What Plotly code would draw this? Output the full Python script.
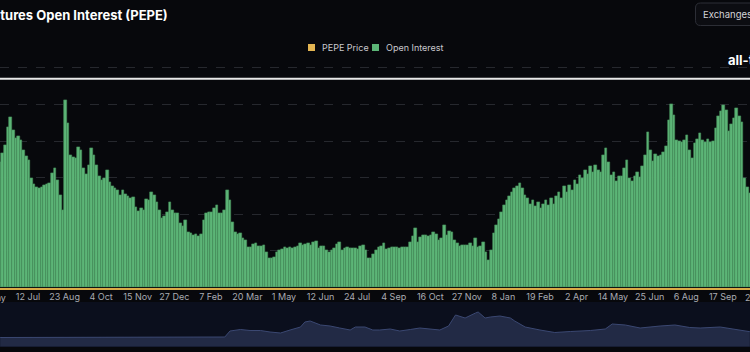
import pandas as pd
import plotly.graph_objects as go

W, H = 750, 352

# ---------------- data ----------------
oi_start = "2023-06-10"          # first sample shown, one bar every 3 days
oi_values = [  # Open Interest, $M
    343, 367, 389, 438, 466, 430, 408, 414, 403, 376,
    359, 348, 299, 283, 275, 272, 275, 280, 283, 285,
    313, 326, 294, 253, 212, 512, 449, 362, 357, 354,
    384, 376, 326, 310, 335, 381, 362, 335, 305, 294,
    299, 321, 288, 277, 272, 266, 253, 266, 255, 250,
    245, 247, 220, 209, 217, 212, 242, 239, 261, 253,
    234, 212, 190, 195, 206, 234, 212, 204, 204, 176,
    168, 184, 152, 149, 143, 146, 141, 146, 184, 204,
    206, 206, 217, 225, 204, 204, 212, 266, 239, 179,
    152, 146, 149, 135, 130, 111, 111, 119, 122, 113,
    113, 116, 97, 81, 81, 83, 97, 102, 105, 111,
    108, 111, 108, 111, 113, 122, 116, 119, 122, 116,
    124, 127, 108, 113, 113, 102, 97, 102, 108, 119,
    124, 102, 108, 111, 108, 108, 108, 105, 113, 116,
    102, 81, 81, 92, 102, 111, 113, 122, 105, 108,
    111, 111, 111, 108, 111, 111, 111, 124, 141, 163,
    124, 138, 143, 143, 141, 143, 152, 146, 130, 135,
    171, 143, 154, 152, 130, 122, 113, 116, 116, 116,
    122, 113, 135, 111, 113, 124, 97, 75, 102, 149,
    171, 187, 206, 225, 239, 250, 261, 272, 277, 285,
    272, 253, 245, 228, 239, 223, 234, 217, 228, 239,
    225, 245, 228, 250, 261, 245, 277, 261, 280, 266,
    294, 283, 307, 299, 321, 310, 332, 315, 335, 321,
    315, 362, 381, 343, 307, 315, 291, 305, 305, 326,
    348, 299, 291, 305, 315, 302, 332, 362, 425, 376,
    346, 365, 359, 362, 370, 386, 458, 501, 471, 403,
    400, 397, 403, 417, 376, 354, 395, 406, 422, 403,
    397, 406, 397, 400, 436, 469, 482, 499, 485, 427,
    447, 463, 490, 469, 452, 299, 275, 258,
]
oi_dates = pd.date_range(oi_start, periods=len(oi_values), freq="3D")

nav_dates = [
    "2023-06-10", "2023-07-14", "2023-08-18", "2023-09-21", "2023-10-26",
    "2023-11-29", "2024-01-03", "2024-02-06", "2024-02-23", "2024-02-29",
    "2024-03-12", "2024-03-23", "2024-04-04", "2024-04-15", "2024-04-27",
    "2024-05-08", "2024-05-20", "2024-05-25", "2024-05-31", "2024-06-12",
    "2024-06-23", "2024-07-04", "2024-07-16", "2024-07-22", "2024-08-02",
    "2024-08-11", "2024-08-19", "2024-08-31", "2024-09-11", "2024-09-23",
    "2024-10-04", "2024-10-27", "2024-11-06", "2024-11-14", "2024-11-25",
    "2024-12-07", "2024-12-10", "2024-12-18", "2024-12-24", "2025-01-04",
    "2025-01-16", "2025-01-21", "2025-02-02", "2025-02-19", "2025-03-08",
    "2025-03-26", "2025-04-18", "2025-05-05", "2025-05-13", "2025-05-28",
    "2025-06-14", "2025-07-07", "2025-07-24", "2025-08-10", "2025-08-22",
    "2025-09-14", "2025-10-07", "2025-10-18",
]
nav_values = [
    9.2, 9.2, 9.4, 9.0, 9.2, 9.4, 9.7, 9.4, 9.7, 15.7,
    17.2, 16.2, 16.2, 14.7, 13.7, 16.7, 19.7, 24.7, 25.7, 21.7,
    20.7, 18.7, 16.7, 19.7, 19.7, 16.7, 16.7, 17.7, 15.7, 17.2,
    18.7, 16.7, 20.7, 31.7, 28.7, 33.7, 34.7, 28.7, 29.7, 30.7,
    28.7, 25.7, 19.7, 16.7, 14.2, 15.2, 16.2, 17.7, 22.7, 21.7,
    18.7, 20.7, 21.7, 19.2, 18.7, 19.7, 16.7, 15.0,
]

tick_dates = [
    "2023-07-12", "2023-08-23", "2023-10-04", "2023-11-15", "2023-12-27",
    "2024-02-07", "2024-03-20", "2024-05-01", "2024-06-12", "2024-07-24",
    "2024-09-04", "2024-10-16", "2024-11-27", "2025-01-08", "2025-02-19",
    "2025-04-02", "2025-05-14", "2025-06-25", "2025-08-06", "2025-09-17",
]
tick_labels = [
    "12 Jul", "23 Aug", "4 Oct", "15 Nov", "27 Dec", "7 Feb", "20 Mar",
    "1 May", "12 Jun", "24 Jul", "4 Sep", "16 Oct", "27 Nov", "8 Jan",
    "19 Feb", "2 Apr", "14 May", "25 Jun", "6 Aug", "17 Sep",
]
edge_labels = ["31 May", "29 Oct"]

series_names = ["PEPE Price", "Open Interest"]

x_range = ["2023-06-09 20:00", "2025-10-18 05:00"]
ath_line_value = 570

# ---------------- helpers ----------------
def px_x(x):
    return x / W

def px_y(y):
    return 1 - y / H

BG = "#07080c"
GREEN = "#5cb577"
GREEN_EDGE = "#468f5d"
GOLD = "#e3b552"
FONT = "Inter"

fig = go.Figure()

fig.add_trace(go.Bar(
    x=oi_dates, y=oi_values, name=series_names[1],
    marker=dict(color=GREEN, line=dict(width=0.6, color=GREEN_EDGE)),
    showlegend=False, hoverinfo="skip", xaxis="x", yaxis="y",
))

fig.add_trace(go.Scatter(
    x=pd.to_datetime(nav_dates), y=nav_values, mode="lines",
    line=dict(color="#3b4872", width=1), fill="tozeroy", fillcolor="#222a45",
    showlegend=False, hoverinfo="skip", xaxis="x2", yaxis="y2",
))

shapes = [
    # navigator background
    dict(type="rect", xref="paper", yref="paper", x0=0, x1=1,
         y0=px_y(347), y1=px_y(302), fillcolor="#0b0f1d", line=dict(width=0), layer="below"),
    # all-time line
    dict(type="line", xref="paper", yref="y", x0=0, x1=1, y0=ath_line_value, y1=ath_line_value,
         line=dict(color="#e8e8e8", width=2)),
]

# legend swatches
legend_items = [(308, GOLD), (372, GREEN)]
for lx, col in legend_items:
    shapes.append(dict(type="rect", xref="paper", yref="paper",
                       x0=px_x(lx), x1=px_x(lx + 7), y0=px_y(51), y1=px_y(44),
                       fillcolor=col, line=dict(width=0)))

# Exchanges button (rounded rect)
bx0, by0, bx1, by1, r = 695.5, 3, 770, 25.5, 5
path = (f"M {px_x(bx0 + r)},{px_y(by0)} L {px_x(bx1 - r)},{px_y(by0)} "
        f"Q {px_x(bx1)},{px_y(by0)} {px_x(bx1)},{px_y(by0 + r)} "
        f"L {px_x(bx1)},{px_y(by1 - r)} Q {px_x(bx1)},{px_y(by1)} {px_x(bx1 - r)},{px_y(by1)} "
        f"L {px_x(bx0 + r)},{px_y(by1)} Q {px_x(bx0)},{px_y(by1)} {px_x(bx0)},{px_y(by1 - r)} "
        f"L {px_x(bx0)},{px_y(by0 + r)} Q {px_x(bx0)},{px_y(by0)} {px_x(bx0 + r)},{px_y(by0)} Z")
shapes.append(dict(type="path", xref="paper", yref="paper", path=path,
                   fillcolor="#0c0d12", line=dict(color="#2c2e36", width=1)))

annotations = [
    dict(text="<b>Futures Open Interest (PEPE)</b>", xref="paper", yref="paper",
         x=px_x(170), y=px_y(15), xanchor="right", yanchor="middle", showarrow=False,
         font=dict(family=FONT, size=13, color="#ffffff")),
    dict(text="Exchanges", xref="paper", yref="paper", x=px_x(701), y=px_y(14.5),
         xanchor="left", yanchor="middle", showarrow=False,
         font=dict(family=FONT, size=9.5, color="#d4d4d8")),
    dict(text="<b>all-time</b>", xref="paper", yref="paper", x=px_x(726), y=px_y(60),
         xanchor="left", yanchor="middle", showarrow=False,
         font=dict(family=FONT, size=13, color="#ffffff")),
    dict(text=edge_labels[0], xref="paper", yref="paper", x=px_x(-8.6), y=px_y(297.5),
         xanchor="center", yanchor="middle", showarrow=False,
         font=dict(family=FONT, size=9, color="#a9abb2")),
    dict(text=edge_labels[1], xref="paper", yref="paper", x=px_x(759.4), y=px_y(297.5),
         xanchor="center", yanchor="middle", showarrow=False,
         font=dict(family=FONT, size=9, color="#a9abb2")),
]
for (lx, _), name in zip(legend_items, series_names):
    annotations.append(dict(text=name, xref="paper", yref="paper", x=px_x(lx + 11.5),
                            y=px_y(47.5), xanchor="left", yanchor="middle", showarrow=False,
                            font=dict(family=FONT, size=9, color="#c9c9ce")))

fig.update_layout(
    width=W, height=H, margin=dict(l=0, r=0, t=0, b=0),
    paper_bgcolor=BG, plot_bgcolor="rgba(0,0,0,0)",
    bargap=0,
    font=dict(family=FONT, color="#c8c8cc"),
    showlegend=False,
    xaxis=dict(type="date", range=x_range, domain=[0, 1], anchor="y",
               tickvals=pd.to_datetime(tick_dates), ticktext=tick_labels,
               tickfont=dict(family=FONT, size=9, color="#a9abb2"),
               showgrid=False, showline=True, linecolor="#d9aa48", linewidth=2,
               ticks="", zeroline=False, fixedrange=True),
    yaxis=dict(domain=[px_y(287.5), px_y(64.2)], range=[0, 610], dtick=100, tick0=0,
               showticklabels=False, showgrid=True, gridcolor="#26282e", griddash="dash",
               gridwidth=1, zeroline=False, fixedrange=True),
    xaxis2=dict(matches="x", anchor="y2", domain=[0, 1], showticklabels=False,
                showgrid=False, showline=False, zeroline=False, ticks=""),
    yaxis2=dict(domain=[px_y(346.7), px_y(302)], range=[0, 44.7], showticklabels=False,
                showgrid=False, zeroline=False, showline=False),
    shapes=shapes,
    annotations=annotations,
)

fig.write_html("out.html")
